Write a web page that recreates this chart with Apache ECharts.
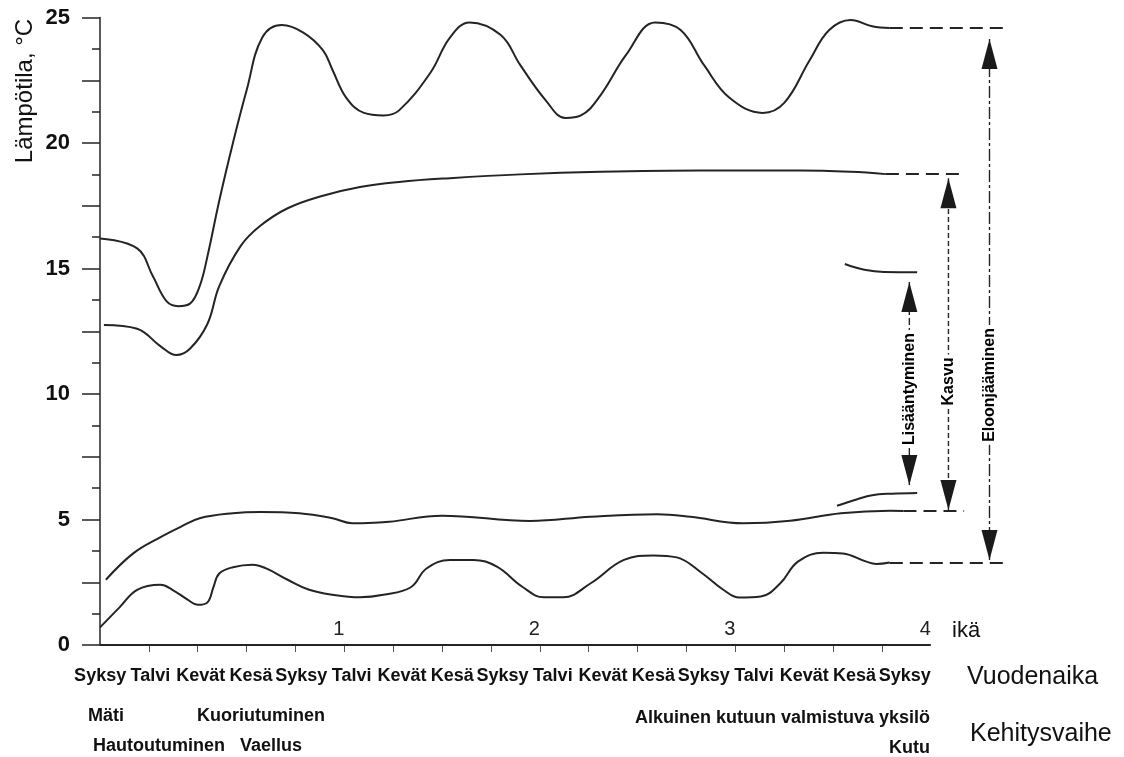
<!DOCTYPE html>
<html>
<head>
<meta charset="utf-8">
<script src="https://cdn.jsdelivr.net/npm/echarts@6.0.0/dist/echarts.min.js"></script>
<style>
html,body{margin:0;padding:0;background:#fff;}
#c{width:1124px;height:757px;}
</style>
</head>
<body>
<div id="c"></div>
<script>
// ---- data (x = ikä / age in years, y = lämpötila °C) ----
const seasons = ['Syksy','Talvi','Kevät','Kesä','Syksy','Talvi','Kevät','Kesä','Syksy','Talvi','Kevät','Kesä','Syksy','Talvi','Kevät','Kesä','Syksy'];
const ageLabels = [1, 2, 3, 4];
const seasonTickAges = [0, 0.25, 0.5, 0.75, 1, 1.25, 1.5, 1.75, 2, 2.25, 2.5, 2.75, 3, 3.25, 3.5, 3.75];
const ageAxisRange = [-0.25, 4];

const eloonjaaminenYla = [[-0.25,16.2],[-0.06,15.8],[0.02,14.7],[0.09,13.7],[0.15,13.5],[0.21,13.6],[0.26,14.3],[0.30,15.5],[0.36,17.7],[0.43,20.0],[0.50,22.1],[0.58,24.2],[0.68,24.7],[0.79,24.4],[0.89,23.7],[0.94,22.9],[1.01,21.8],[1.10,21.2],[1.20,21.1],[1.28,21.3],[1.44,22.8],[1.54,24.2],[1.64,24.8],[1.80,24.3],[1.90,23.1],[2.03,21.7],[2.13,21.0],[2.21,21.1],[2.31,21.9],[2.44,23.5],[2.59,24.8],[2.72,24.5],[2.84,23.1],[2.97,21.8],[3.14,21.2],[3.25,21.6],[3.38,23.3],[3.48,24.5],[3.59,24.9],[3.70,24.65],[3.79,24.58]];
const kasvuYla = [[-0.23,12.75],[-0.06,12.6],[0.06,11.9],[0.14,11.55],[0.21,11.8],[0.30,12.8],[0.36,14.3],[0.47,15.9],[0.57,16.7],[0.71,17.4],[0.89,17.9],[1.08,18.25],[1.28,18.45],[1.54,18.6],[1.90,18.75],[2.31,18.85],[2.82,18.9],[3.33,18.9],[3.59,18.85],[3.77,18.76]];
const lisaantyminenYla = [[3.56,15.18],[3.66,14.95],[3.76,14.86],[3.93,14.85]];
const lisaantyminenAla = [[3.52,5.55],[3.62,5.8],[3.70,5.97],[3.80,6.03],[3.93,6.06]];
const kasvuAla = [[-0.22,2.6],[-0.08,3.65],[0.06,4.3],[0.16,4.7],[0.26,5.05],[0.43,5.25],[0.57,5.3],[0.77,5.25],[0.94,5.05],[1.04,4.85],[1.15,4.87],[1.23,4.91],[1.50,5.15],[1.95,4.94],[2.26,5.11],[2.60,5.21],[2.77,5.11],[3.04,4.85],[3.28,4.95],[3.54,5.25],[3.79,5.35],[3.86,5.34]];
const eloonjaaminenAla = [[-0.25,0.7],[-0.15,1.5],[-0.06,2.2],[0.06,2.4],[0.12,2.2],[0.20,1.8],[0.25,1.6],[0.30,1.7],[0.33,2.3],[0.36,2.85],[0.43,3.1],[0.53,3.2],[0.60,3.05],[0.71,2.6],[0.82,2.2],[0.94,2.0],[1.08,1.9],[1.20,2.0],[1.34,2.3],[1.42,3.05],[1.54,3.39],[1.66,3.39],[1.78,3.12],[1.91,2.32],[2.02,1.9],[2.12,1.9],[2.26,2.46],[2.43,3.39],[2.58,3.57],[2.70,3.49],[2.83,2.86],[2.94,2.19],[3.02,1.89],[3.13,1.93],[3.23,2.46],[3.32,3.32],[3.45,3.68],[3.55,3.65],[3.67,3.32],[3.72,3.23],[3.79,3.29]];

// dashed guide levels at the right end
const guideLevels = [24.58, 18.76, 5.34, 3.27];
const guideStart = [3.79, 3.77, 3.86, 3.79];
const guideEnd = [4.38, 4.17, 4.17, 4.37];

// range arrows
const arrowNames = ['Lisääntyminen', 'Kasvu', 'Eloonjääminen'];
const arrowAges = [3.89, 4.09, 4.30];
const arrowLow = [6.37, 5.38, 3.39];
const arrowHigh = [14.46, 18.60, 24.14];
const arrowLabelTemp = [10.2, 10.5, 10.36];

// text
const stageTexts = ['Mäti', 'Kuoriutuminen', 'Hautoutuminen', 'Vaellus', 'Alkuinen kutuun valmistuva yksilö', 'Kutu'];

// ---- chart ----
const FONT = '"Liberation Sans", Arial, Helvetica, sans-serif';
const INK = '#242424';
const chart = echarts.init(document.getElementById('c'), null, {renderer: 'canvas'});

function curve(name, data) {
  return {name: name, type: 'line', data: data, xAxisIndex: 0, yAxisIndex: 0,
    symbol: 'none', showSymbol: false, smooth: 0.4, clip: false, silent: true, z: 3,
    lineStyle: {color: INK, width: 2}};
}

const series = [
  // x axis base line (age axis ends at 4)
  {type: 'line', xAxisIndex: 0, yAxisIndex: 0, symbol: 'none', silent: true, z: 5, clip: false,
    data: [[ageAxisRange[0], 0], [ageAxisRange[1], 0]], lineStyle: {color: INK, width: 2}},
  curve('Eloonjääminen ylä', eloonjaaminenYla),
  curve('Kasvu ylä', kasvuYla),
  curve('Lisääntyminen ylä', lisaantyminenYla),
  curve('Lisääntyminen ala', lisaantyminenAla),
  curve('Kasvu ala', kasvuAla),
  curve('Eloonjääminen ala', eloonjaaminenAla)
];

guideLevels.forEach(function (lvl, i) {
  series.push({type: 'line', xAxisIndex: 0, yAxisIndex: 0, symbol: 'none', clip: false, silent: true, z: 2,
    data: [[guideStart[i], lvl], [guideEnd[i], lvl]],
    lineStyle: {color: INK, width: 2, type: [13, 7]}});
});

const arrowDash = [[7, 3], [5, 3], [12, 3, 3, 3]];
arrowAges.forEach(function (a, i) {
  series.push({type: 'line', xAxisIndex: 0, yAxisIndex: 0, symbol: 'none', clip: false, silent: true, z: 2,
    data: [[a, arrowLow[i]], [a, arrowHigh[i]]],
    lineStyle: {color: INK, width: 1.4, type: arrowDash[i]}});
});

const heads = [];
arrowAges.forEach(function (a, i) {
  heads.push({value: [a, arrowHigh[i]], symbolRotate: 0, symbolOffset: [0, 15]});
  heads.push({value: [a, arrowLow[i]], symbolRotate: 180, symbolOffset: [0, -15]});
});
series.push({type: 'scatter', xAxisIndex: 0, yAxisIndex: 0, clip: false, silent: true, z: 4,
  symbol: 'triangle', symbolSize: [16, 30], itemStyle: {color: '#1a1a1a', opacity: 1}, data: heads});

const labelSizes = [16, 16, 16];
series.push({type: 'scatter', xAxisIndex: 0, yAxisIndex: 0, clip: false, silent: true, z: 6,
  symbolSize: 1, itemStyle: {color: 'rgba(0,0,0,0)', opacity: 1},
  data: arrowAges.map(function (a, i) {
    return {value: [a, arrowLabelTemp[i]], name: arrowNames[i],
      label: {fontSize: labelSizes[i]}};
  }),
  label: {show: true, position: 'inside', rotate: 90, formatter: '{b}', color: '#000', opacity: 1,
    fontFamily: FONT, fontWeight: 'bold', fontSize: 16, backgroundColor: '#fff', padding: [1, 3]}
});

function txt(text, x, y, opts) {
  return {type: 'text', x: x, y: y, rotation: opts.rotation || 0, silent: true, z: 10,
    style: {text: text, fill: '#111', fontFamily: FONT, fontSize: opts.size || 18,
      fontWeight: opts.weight || 'bold', align: opts.align || 'left', verticalAlign: 'middle'}};
}

const option = {
  backgroundColor: '#fff',
  animation: false,
  grid: [
    {left: 100, right: 95.4, top: 17.5, bottom: 112, containLabel: false, outerBoundsMode: 'none'},
    {left: 75, right: 194, top: 17.5, bottom: 112, containLabel: false, outerBoundsMode: 'none'}
  ],
  xAxis: [
    {gridIndex: 0, type: 'value', min: -0.25, max: 4.5,
      axisLine: {show: false, onZero: false},
      axisTick: {show: true, customValues: seasonTickAges, length: 7, lineStyle: {color: '#555', width: 1}},
      axisLabel: {show: true, customValues: ageLabels, inside: true, align: 'right', margin: 6,
        showMinLabel: true, showMaxLabel: true, fontSize: 20, color: '#222', fontFamily: FONT},
      splitLine: {show: false}
    },
    {gridIndex: 1, type: 'category', data: seasons, boundaryGap: true,
      axisLine: {show: false}, axisTick: {show: false}, splitLine: {show: false},
      axisLabel: {interval: 0, margin: 22, fontSize: 18, fontWeight: 'bold', color: '#111', fontFamily: FONT}
    }
  ],
  yAxis: [
    {gridIndex: 0, type: 'value', min: 0, max: 25, interval: 2.5,
      axisLine: {show: true, onZero: false, lineStyle: {color: INK, width: 1.5}},
      axisTick: {show: true, length: 18, lineStyle: {color: INK, width: 1.5}},
      minorTick: {show: true, splitNumber: 2, length: 8, lineStyle: {color: INK, width: 1.5}},
      splitLine: {show: false}, minorSplitLine: {show: false},
      axisLabel: {margin: 30, fontSize: 22, fontWeight: 'bold', color: '#111', fontFamily: FONT,
        formatter: function (v) { return (v % 5 === 0) ? String(v) : ''; }}
    },
    {gridIndex: 1, type: 'value', show: false}
  ],
  series: series,
  graphic: [
    txt('Lämpötila, °C', 25, 91, {size: 24, weight: 'normal', align: 'center', rotation: Math.PI / 2}),
    txt('ikä', 952, 631, {size: 22, weight: 'normal'}),
    txt('Vuodenaika', 967, 677, {size: 25, weight: 'normal'}),
    txt('Kehitysvaihe', 970, 734, {size: 25, weight: 'normal'}),
    txt(stageTexts[0], 88, 716, {}),
    txt(stageTexts[1], 197, 716, {}),
    txt(stageTexts[2], 93, 746, {}),
    txt(stageTexts[3], 240, 746, {}),
    txt(stageTexts[4], 930, 718, {align: 'right'}),
    txt(stageTexts[5], 930, 748, {align: 'right'})
  ]
};
chart.setOption(option);
</script>
</body>
</html>
